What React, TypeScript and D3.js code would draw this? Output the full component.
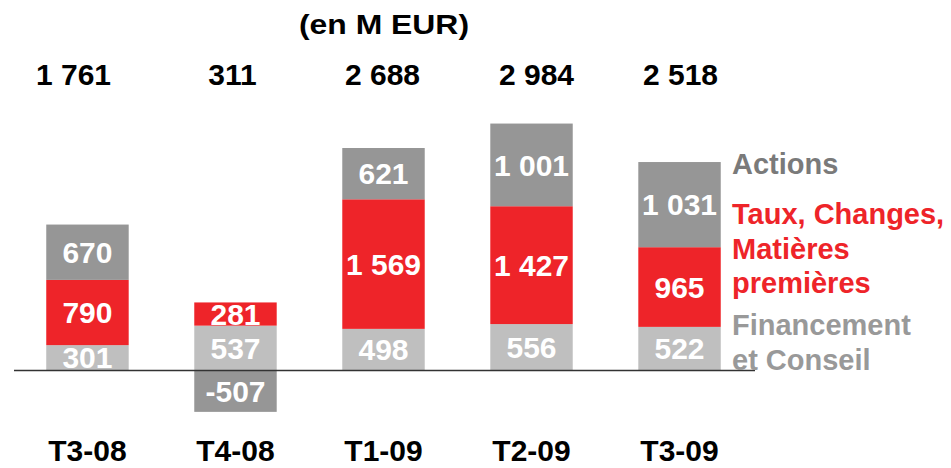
import React from "react";
import * as d3 from "d3";

const categories = ["T3-08", "T4-08", "T1-09", "T2-09", "T3-09"];
const financement = [301, 537, 498, 556, 522];
const taux = [790, 281, 1569, 1427, 965];
const actions = [670, -507, 621, 1001, 1031];

const seriesKeys = ["financement", "taux", "actions"];
const seriesColors: Record<string, string> = {
  financement: "#bfbfbf",
  taux: "#ee2429",
  actions: "#969696",
};

const legendActions = ["Actions"];
const legendTaux = ["Taux, Changes,", "Matières", "premières"];
const legendFin = ["Financement", "et Conseil"];
const title = "(en M EUR)";

const W = 951;
const H = 468;
const FONT = "Arial, 'Liberation Sans', Helvetica, sans-serif";

export default function App() {
  const rows = categories.map((c, i) => ({
    cat: c,
    financement: financement[i],
    taux: taux[i],
    actions: actions[i],
  }));

  const x = d3
    .scaleBand<string>()
    .domain(categories)
    .range([46.25, 720.75])
    .paddingInner(0.443)
    .paddingOuter(0);

  const y = d3.scaleLinear().domain([0, 2688]).range([370, 148]);

  const stack = d3
    .stack<any>()
    .keys(seriesKeys)
    .offset(d3.stackOffsetDiverging);
  const stacked = stack(rows as any);

  const locale = d3.formatLocale({
    decimal: ",",
    thousands: "\u00a0",
    grouping: [3],
    currency: ["", "€"],
  });
  const fmt = locale.format(",d");

  const totals = rows.map((r) => r.financement + r.taux + r.actions);
  const totalNudge = [-14, -3, -1, 5, 1];

  const segFont = 30;
  const legendX = 732;

  return (
    <svg
      width={W}
      height={H}
      style={{ position: "absolute", left: 0, top: 0, background: "#fff" }}
      fontFamily={FONT}
    >
      <text
        x={384}
        y={34}
        textAnchor="middle"
        fontSize={28}
        fontWeight="bold"
        fill="#000"
        textLength={170}
        lengthAdjust="spacingAndGlyphs"
      >
        {title}
      </text>

      {totals.map((t, i) => (
        <text
          key={"t" + i}
          x={(x(categories[i]) as number) + x.bandwidth() / 2 + totalNudge[i]}
          y={85}
          textAnchor="middle"
          fontSize={30}
          fontWeight="bold"
          fill="#000"
        >
          {fmt(t)}
        </text>
      ))}

      {stacked.map((s) => (
        <g key={s.key} fill={seriesColors[s.key]}>
          {s.map((d, i) => {
            const y0 = y(Math.max(d[0], d[1]));
            const y1 = y(Math.min(d[0], d[1]));
            return (
              <rect
                key={i}
                x={x(categories[i])}
                y={y0}
                width={x.bandwidth()}
                height={y1 - y0}
              />
            );
          })}
        </g>
      ))}

      {stacked.map((s) => (
        <g key={"l" + s.key}>
          {s.map((d, i) => {
            const val = (rows[i] as any)[s.key] as number;
            const cy = (y(d[0]) + y(d[1])) / 2;
            return (
              <text
                key={i}
                x={(x(categories[i]) as number) + x.bandwidth() / 2}
                y={cy + segFont * 0.358}
                textAnchor="middle"
                fontSize={segFont}
                fontWeight="bold"
                fill="#fff"
              >
                {val < 0 ? "-" + fmt(-val) : fmt(val)}
              </text>
            );
          })}
        </g>
      ))}

      <line x1={14} x2={755} y1={y(0) + 0.5} y2={y(0) + 0.5} stroke="#333" strokeWidth={1.3} />

      {categories.map((c) => (
        <text
          key={"c" + c}
          x={(x(c) as number) + x.bandwidth() / 2}
          y={461}
          textAnchor="middle"
          fontSize={30}
          fontWeight="bold"
          fill="#000"
        >
          {c}
        </text>
      ))}

      <g fontSize={29} fontWeight="bold">
        {legendActions.map((l, i) => (
          <text key={"la" + i} x={legendX} y={174 + i * 34.5} fill="#7a7a7a">
            {l}
          </text>
        ))}
        {legendTaux.map((l, i) => (
          <text key={"lt" + i} x={legendX} y={224 + i * 34.5} fill="#ee2429">
            {l}
          </text>
        ))}
        {legendFin.map((l, i) => (
          <text key={"lf" + i} x={legendX} y={335 + i * 34.5} fill="#999999">
            {l}
          </text>
        ))}
      </g>
    </svg>
  );
}
